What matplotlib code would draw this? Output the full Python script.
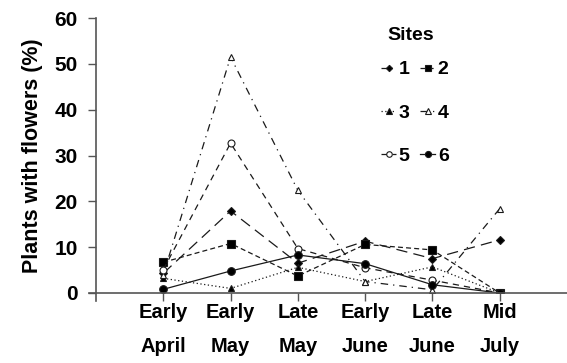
import matplotlib
matplotlib.use("Agg")
from matplotlib import pyplot as plt

plt.rcParams['font.family'] = ['Liberation Sans', 'DejaVu Sans']
plt.rcParams['font.weight'] = 'bold'

periods = ["Early\nApril", "Early\nMay", "Late\nMay", "Early\nJune", "Late\nJune", "Mid\nJuly"]

# percentage of plants flowering at each site
site1 = [4.3, 17.9, 6.5, 11.3, 7.5, 11.6]
site2 = [6.7, 10.8, 3.7, 10.6, 9.4, 0.0]
site3 = [3.2, 1.0, 5.6, 2.5, 5.7, 0.0]
site4 = [4.0, 51.5, 22.4, 2.5, 0.7, 18.4]
site5 = [5.1, 32.7, 9.7, 5.5, 2.8, 0.0]
site6 = [0.8, 4.8, 8.3, 6.4, 1.8, 0.0]

sites = ["1", "2", "3", "4", "5", "6"]
series = [site1, site2, site3, site4, site5, site6]

styles = [
    dict(ls=(0, (9, 5)), marker='D', ms=4, mfc='black'),
    dict(ls=(0, (4, 2.5)), marker='s', ms=5.5, mfc='black'),
    dict(ls=(0, (1, 2)), marker='^', ms=5, mfc='black'),
    dict(ls=(0, (6, 4, 1, 4)), marker='^', ms=5, mfc='white'),
    dict(ls=(0, (5, 4)), marker='o', ms=5, mfc='white'),
    dict(ls='-', marker='o', ms=5.5, mfc='black'),
]

fig = plt.figure(figsize=(5.67, 3.63), dpi=100)
ax = fig.add_axes([96 / 567, 70 / 363, 471 / 567, 275 / 363])

x = list(range(len(periods)))
handles = []
for name, vals, st in zip(sites, series, styles):
    ln, = ax.plot(x, vals, color='#1a1a1a', lw=0.9, linestyle=st['ls'], marker=st['marker'],
                  ms=st['ms'], mfc=st['mfc'], mec='#1a1a1a', mew=0.8, label=name)
    handles.append(ln)

ax.set_xlim(-1, 6)
ax.set_ylim(0, 60)
ax.set_yticks(range(0, 61, 10))
ax.set_xticks(x)
ax.set_xticklabels(periods, fontsize=14.5, fontweight='bold', linespacing=2.0)
ax.tick_params(axis='y', labelsize=15, length=6, width=1, color='#555555', pad=7)
ax.tick_params(axis='x', length=6, width=1, color='#555555', pad=1)
ax.spines['top'].set_visible(False)
ax.spines['right'].set_visible(False)
for s in ['left', 'bottom']:
    ax.spines[s].set_color('#555555')
    ax.spines[s].set_linewidth(1.2)
ax.spines['left'].set_bounds(-1.7, 60)
ax.spines['bottom'].set_bounds(-1.1, 6)

ax.set_ylabel("Plants with flowers (%)", fontsize=15.5, fontweight='bold', labelpad=8)

# legend filled row by row: 1 2 / 3 4 / 5 6
order = [0, 2, 4, 1, 3, 5]
leg = ax.legend([handles[i] for i in order], [sites[i] for i in order], ncol=2,
                loc='upper left', bbox_to_anchor=(0.585, 0.88),
                frameon=False, fontsize=14,
                handlelength=0.75, handletextpad=0.15, columnspacing=0.55, labelspacing=1.32,
                borderpad=0, markerscale=0.8)
for t in leg.get_texts():
    t.set_fontweight('bold')
fig.text(387 / 567, 1 - 35 / 363, "Sites", fontsize=14, fontweight='bold', va='center', ha='left')

fig.savefig("out.png", dpi=100)
